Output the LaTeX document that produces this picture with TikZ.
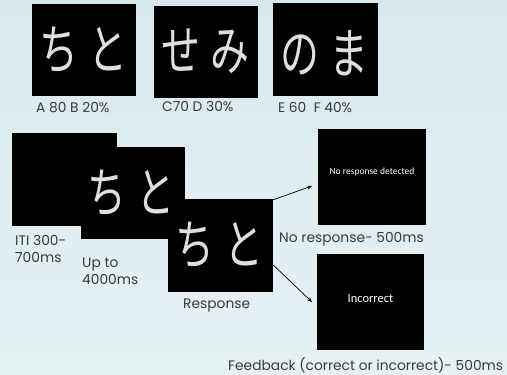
\documentclass[tikz,border=0pt]{standalone}
\usepackage{fontspec}
\setmainfont{Poppins}
\newfontfamily\jpfont{Noto Sans CJK JP}
\newfontfamily\carfont{Carlito}
\usetikzlibrary{arrows.meta}
\definecolor{bgtop}{HTML}{D8E9ED}
\definecolor{bgbot}{HTML}{E6F1F4}
\definecolor{txt}{HTML}{3A3A3A}
\newcommand{\kanapair}[2]{\scalebox{0.72}[1]{#1\hspace{14pt}#2}}
\tikzset{
  screen/.style={fill=black, draw=none, inner sep=0pt, minimum width=#1, minimum height=92pt},
  kana/.style={text=white!75!gray, font=\jpfont\fontsize{54}{54}\selectfont, inner sep=0pt},
  lbl/.style={text=txt, font=\fontsize{13.8}{17}\selectfont, inner sep=0pt, align=left},
  arr/.style={-{Stealth[length=5pt,width=4pt]}, line width=0.7pt, black}
}
\begin{document}
\begin{tikzpicture}[x=1pt,y=-1pt]
\useasboundingbox (0,0) rectangle (507,375);
\shade[top color=bgtop, bottom color=bgbot] (0,0) rectangle (507,375);
% top row
\node[screen=104pt] (b1) at (84,50) {};
\node[kana] (k1) at (83,50) {\kanapair{ち}{と}};
\node[screen=104pt] (b2) at (206,52) {};
\node[kana] (k2) at (205,51) {\kanapair{せ}{み}};
\node[screen=105pt, minimum height=93pt] (b3) at (325.5,49.5) {};
\node[kana] (k3) at (324,53) {\kanapair{の}{ま}};
\node[lbl, anchor=west] (l1) at (36,108) {A 80 B 20\%};
\node[lbl, anchor=west] (l2) at (162,106) {C70 D 30\%};
\node[lbl, anchor=west] (l3) at (278,107) {E 60\ \ F 40\%};
% bottom sequence
\node[screen=105pt, minimum height=93pt] (iti) at (64.5,179.5) {};
\node[screen=104pt] (stim) at (133,193) {};
\node[kana] (k4) at (131,193) {\kanapair{ち}{と}};
\node[screen=105pt, minimum height=93pt] (resp) at (220.5,245.5) {};
\node[kana] (k5) at (219,245) {\kanapair{ち}{と}};
\node[screen=108pt, minimum height=96pt] (nr) at (372,177) {};
\node[text=white, font=\carfont\fontsize{9.5}{9.5}\selectfont] (nrt) at (372,172) {No response detected};
\node[screen=107pt, minimum height=96pt] (inc) at (370.5,302) {};
\node[text=white, font=\carfont\fontsize{12.5}{12.5}\selectfont] (inct) at (370.5,299) {Incorrect};
\node[lbl, anchor=west] (l4) at (15,248.5) {ITI 300-\\700ms};
\node[lbl, anchor=west] (l5) at (82,271.5) {Up to\\4000ms};
\node[lbl, anchor=west] (l6) at (183,305) {Response};
\node[lbl, anchor=west] (l7) at (279,239) {No response- 500ms};
\node[lbl, anchor=west] (l8) at (228,365) {Feedback (correct or incorrect)- 500ms};
% arrows
\coordinate (e1) at (312,186);
\coordinate (e2) at (312,302);
\draw[arr] ([yshift=-1pt]resp.north east) -- (e1);
\draw[arr] ([yshift=-19.5pt]resp.east) -- (e2);
\end{tikzpicture}
\end{document}
